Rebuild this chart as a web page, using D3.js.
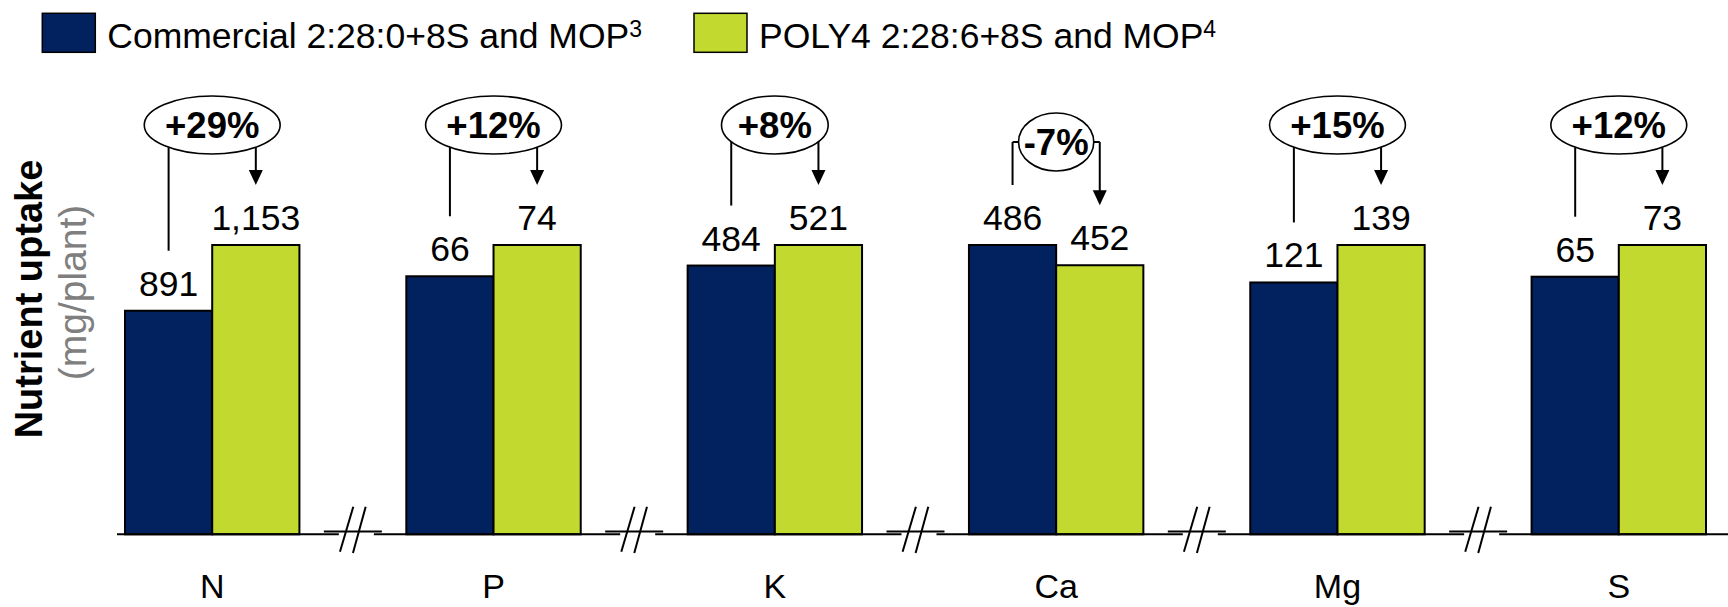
<!DOCTYPE html>
<html>
<head>
<meta charset="utf-8">
<script src="https://cdn.jsdelivr.net/npm/d3@7"></script>
<style>
  body { margin: 0; background: #fff; }
  svg { display: block; font-family: Arial, "Liberation Sans", sans-serif; }
</style>
</head>
<body>
<svg id="chart" width="1728" height="607"></svg>
<script>
// Nutrient uptake per plant, commercial blend vs POLY4 blend
const categories = ["N", "P", "K", "Ca", "Mg", "S"];
const commercial = [891, 66, 484, 486, 121, 65];
const poly4 = [1153, 74, 521, 452, 139, 73];
const seriesKeys = ["commercial", "poly4"];
const seriesNames = ["Commercial 2:28:0+8S and MOP", "POLY4 2:28:6+8S and MOP"];
const seriesNotes = ["3", "4"];
const axisTitle = "Nutrient uptake";
const axisUnit = "(mg/plant)";

const colors = { commercial: "#02215f", poly4: "#c2d92f" };
const W = 1728, H = 607;
const baseY = 534.3, topY = 245;

const svg = d3.select("#chart");

// Each nutrient sits on its own axis segment (separated by breaks), so every
// group gets an independent linear scale whose maximum reaches the same height.
const x = d3.scaleBand().domain(categories).range([125, 1706]).paddingInner(0.38).paddingOuter(0);
const sub = d3.scaleBand().domain(seriesKeys).range([0, x.bandwidth()]).padding(0);
const yScales = categories.map((c, i) =>
  d3.scaleLinear().domain([0, Math.max(commercial[i], poly4[i])]).range([baseY, topY]));

const rows = categories.map((c, i) => ({
  cat: c, i,
  values: [{ key: "commercial", v: commercial[i] }, { key: "poly4", v: poly4[i] }]
}));

const fmtValue = d3.format(",");
const pctLocale = d3.formatLocale({ decimal: ".", thousands: ",", grouping: [3], currency: ["", ""], minus: "-" });
const fmtPct = pctLocale.format("+.0%");

// Bars
const groups = svg.append("g").selectAll("g.grp").data(rows).join("g")
  .attr("class", "grp")
  .attr("transform", d => `translate(${x(d.cat)},0)`);

groups.selectAll("rect").data(d => d.values.map(o => ({ ...o, y: yScales[d.i] })))
  .join("rect")
  .attr("x", d => sub(d.key))
  .attr("y", d => d.y(d.v))
  .attr("width", sub.bandwidth())
  .attr("height", d => baseY - d.y(d.v))
  .attr("fill", d => colors[d.key])
  .attr("stroke", "#000")
  .attr("stroke-width", 2);

// Value labels
groups.selectAll("text.val").data(d => d.values.map(o => ({ ...o, y: yScales[d.i] })))
  .join("text")
  .attr("class", "val")
  .attr("x", d => sub(d.key) + sub.bandwidth() / 2)
  .attr("y", d => d.y(d.v) - 15)
  .attr("text-anchor", "middle")
  .attr("font-size", 35.5)
  .attr("fill", "#000")
  .text(d => fmtValue(d.v));

// Baseline with break marks between groups
const breaks = categories.slice(0, -1).map((c, i) =>
  (x(c) + x.bandwidth() + x(categories[i + 1])) / 2);
const axisG = svg.append("g");
const segStarts = [117, ...breaks.map(c => c + 21)];
const segEnds = [...breaks.map(c => c - 14), W];
segStarts.forEach((s, i) => {
  axisG.append("line").attr("x1", s).attr("x2", segEnds[i])
    .attr("y1", baseY).attr("y2", baseY)
    .attr("stroke", "#000").attr("stroke-width", 2);
});
breaks.forEach(c => {
  axisG.append("line").attr("x1", c - 29).attr("x2", c + 29)
    .attr("y1", baseY - 2.7).attr("y2", baseY - 2.7)
    .attr("stroke", "#000").attr("stroke-width", 2);
  axisG.append("line").attr("x1", c + 0.4).attr("y1", baseY - 27.5)
    .attr("x2", c - 12.9).attr("y2", baseY + 17.5)
    .attr("stroke", "#000").attr("stroke-width", 2);
  axisG.append("line").attr("x1", c + 12.8).attr("y1", baseY - 27.5)
    .attr("x2", c + 0.1).attr("y2", baseY + 18.7)
    .attr("stroke", "#000").attr("stroke-width", 2);
});

// Category labels, kept just inside the bottom edge
const xAxis = d3.axisBottom(x).tickSize(0).tickPadding(40);
const xg = svg.append("g").attr("transform", `translate(0,${baseY})`).call(xAxis);
xg.select(".domain").remove();
xg.selectAll("text").attr("font-size", 34).attr("fill", "#000")
  .attr("font-family", "Arial, 'Liberation Sans', sans-serif");

// Change annotations: ellipse with % change, line from commercial, arrow to POLY4
const ann = svg.append("g");
rows.forEach(d => {
  const i = d.i;
  const gx = x(d.cat) + x.bandwidth() / 2;
  const lx = x(d.cat) + sub("commercial") + sub.bandwidth() / 2;
  const rx = x(d.cat) + sub("poly4") + sub.bandwidth() / 2;
  const ys = yScales[i];
  const change = (poly4[i] - commercial[i]) / commercial[i];

  const g = ann.append("g");
  const ell = g.append("ellipse");
  const txt = g.append("text")
    .attr("x", gx)
    .attr("text-anchor", "middle")
    .attr("font-size", 36.5)
    .attr("font-weight", "bold")
    .text(fmtPct(change));
  const tw = txt.node().getComputedTextLength();
  let erx = 0.72 * tw;
  const ery = 29;
  const dx = Math.abs(lx - gx);
  const bracket = dx > 0.9 * erx;
  if (bracket) erx = Math.min(erx, dx - 6);
  const cy = bracket ? 142 : 125;

  ell.attr("cx", gx).attr("cy", cy).attr("rx", erx).attr("ry", ery)
    .attr("fill", "#fff").attr("stroke", "#000").attr("stroke-width", 1.6);
  txt.attr("y", cy + 13);

  const leftEnd = ys(commercial[i]) - 60;
  const tipY = ys(poly4[i]) - 60;
  const attachY = px => bracket ? cy : cy + ery * Math.sqrt(Math.max(0, 1 - ((px - gx) / erx) ** 2));

  const stroke = sel => sel.attr("stroke", "#000").attr("stroke-width", 2).attr("fill", "none");

  if (bracket) {
    g.append("line").attr("x1", lx).attr("x2", gx - erx).attr("y1", cy).attr("y2", cy).call(stroke);
    g.append("line").attr("x1", gx + erx).attr("x2", rx).attr("y1", cy).attr("y2", cy).call(stroke);
  }
  g.append("line").attr("x1", lx).attr("x2", lx)
    .attr("y1", attachY(lx)).attr("y2", leftEnd).call(stroke);
  g.append("line").attr("x1", rx).attr("x2", rx)
    .attr("y1", attachY(rx)).attr("y2", tipY - 14).call(stroke);
  g.append("path")
    .attr("d", `M${rx - 7},${tipY - 15}L${rx + 7},${tipY - 15}L${rx},${tipY}Z`)
    .attr("fill", "#000");
});

// Y-axis title
svg.append("text")
  .attr("transform", `translate(42,299) rotate(-90)`)
  .attr("text-anchor", "middle")
  .attr("font-size", 38)
  .attr("font-weight", "bold")
  .attr("fill", "#000")
  .text(axisTitle);
svg.append("text")
  .attr("transform", `translate(86,292.5) rotate(-90)`)
  .attr("text-anchor", "middle")
  .attr("font-size", 39)
  .attr("fill", "#7f7f7f")
  .text(axisUnit);

// Legend
const legend = svg.append("g");
let lx0 = 42.3;
seriesKeys.forEach((k, i) => {
  legend.append("rect")
    .attr("x", lx0).attr("y", 13.3).attr("width", 53).attr("height", 39)
    .attr("fill", colors[k]).attr("stroke", "#000").attr("stroke-width", 1.5);
  const t = legend.append("text")
    .attr("x", lx0 + 65).attr("y", 48)
    .attr("font-size", 35.5).attr("fill", "#000");
  t.append("tspan").text(seriesNames[i]);
  t.append("tspan").attr("font-size", 23).attr("dy", -11).text(seriesNotes[i]);
  const tw = t.node().getComputedTextLength();
  lx0 = lx0 + 65 + tw + 52;
});
</script>
</body>
</html>
